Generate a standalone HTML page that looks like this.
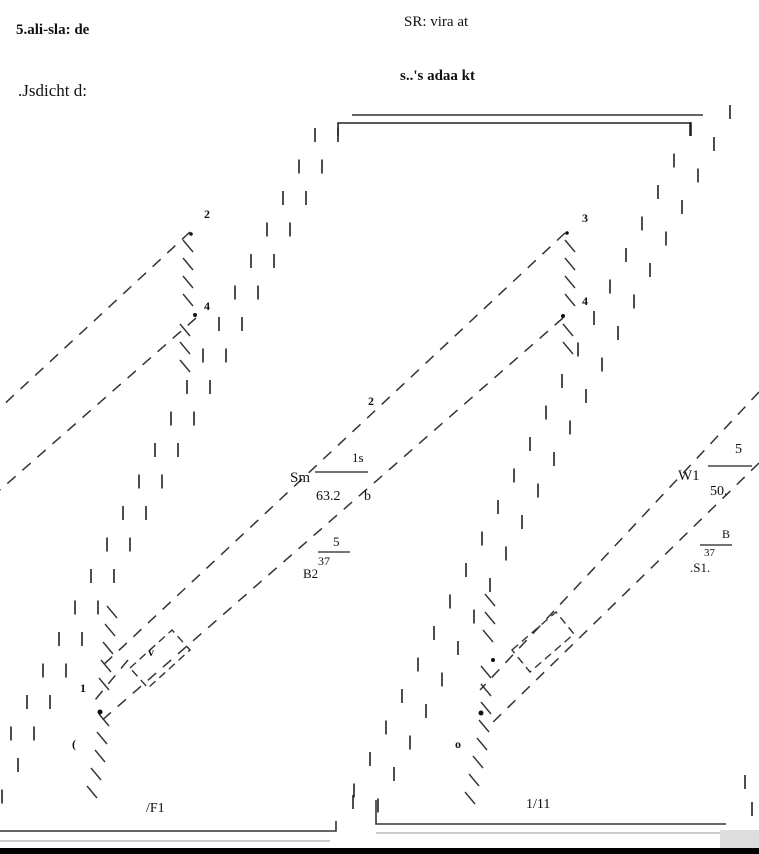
<!DOCTYPE html>
<html><head><meta charset="utf-8"><style>
html,body{margin:0;padding:0;background:#fff;width:759px;height:854px;overflow:hidden}
svg{display:block}
text{font-family:"Liberation Serif",serif;fill:#111}
</style></head><body>
<svg width="759" height="854" viewBox="0 0 759 854" xmlns="http://www.w3.org/2000/svg">
<defs>
<line id="vd" x1="0" y1="0" x2="0" y2="14" stroke="#222" stroke-width="1.6"/>
<line id="bs" x1="-5" y1="-6" x2="5" y2="6" stroke="#333" stroke-width="1.4"/>
<g id="colA">
<use href="#vd" x="315" y="128"/><use href="#vd" x="299" y="159.5"/><use href="#vd" x="283" y="191"/><use href="#vd" x="267" y="222.5"/><use href="#vd" x="251" y="254"/><use href="#vd" x="235" y="285.5"/><use href="#vd" x="219" y="317"/><use href="#vd" x="203" y="348.5"/><use href="#vd" x="187" y="380"/><use href="#vd" x="171" y="411.5"/><use href="#vd" x="155" y="443"/><use href="#vd" x="139" y="474.5"/><use href="#vd" x="123" y="506"/><use href="#vd" x="107" y="537.5"/><use href="#vd" x="91" y="569"/><use href="#vd" x="75" y="600.5"/><use href="#vd" x="59" y="632"/><use href="#vd" x="43" y="663.5"/><use href="#vd" x="27" y="695"/><use href="#vd" x="11" y="726.5"/><use href="#vd" x="-5" y="758"/><use href="#vd" x="-21" y="789.5"/>
</g>
</defs>

<!-- top texts -->
<text x="16" y="34" font-size="15" font-weight="bold">5.ali-sla: de</text>
<text x="18" y="96" font-size="17">.Jsdicht d:</text>
<text x="404" y="26" font-size="15">SR: vira at</text>
<text x="400" y="80" font-size="15" font-weight="bold">s..'s adaa kt</text>

<!-- top frame -->
<line x1="352" y1="115" x2="703" y2="115" stroke="#333" stroke-width="1.5"/>
<polyline points="338,136 338,123 691,123 691,136" fill="none" stroke="#222" stroke-width="1.6"/>

<!-- vertical dash columns -->
<use href="#colA"/>
<use href="#colA" transform="translate(23,0)"/>
<use href="#colA" transform="translate(375,-6)"/>
<use href="#colA" transform="translate(399,9)"/>
<use href="#vd" x="730" y="105"/>
<use href="#vd" x="745" y="775"/>
<use href="#vd" x="752" y="802"/>
<use href="#vd" x="353" y="795"/>

<!-- dashed diagonals -->
<g stroke="#333" stroke-width="1.5" stroke-dasharray="11,9" fill="none">
<line x1="190" y1="232" x2="0" y2="408"/>
<line x1="196" y1="318" x2="0" y2="490"/>
<line x1="565" y1="233" x2="100" y2="668"/>
<line x1="563" y1="318" x2="100" y2="722"/>
<line x1="759" y1="392" x2="480" y2="690"/>
<line x1="759" y1="463" x2="490" y2="725"/>
<line x1="128" y1="660" x2="95" y2="700"/>
</g>

<!-- backslash columns -->
<g>
<use href="#bs" x="188" y="246"/><use href="#bs" x="188" y="264"/><use href="#bs" x="188" y="282"/><use href="#bs" x="188" y="300"/><use href="#bs" x="185" y="330"/><use href="#bs" x="185" y="348"/><use href="#bs" x="185" y="366"/>
<use href="#bs" x="112" y="612"/><use href="#bs" x="110" y="630"/><use href="#bs" x="108" y="648"/><use href="#bs" x="106" y="666"/><use href="#bs" x="104" y="684"/><use href="#bs" x="104" y="720"/><use href="#bs" x="102" y="738"/><use href="#bs" x="100" y="756"/><use href="#bs" x="96" y="774"/><use href="#bs" x="92" y="792"/>
<use href="#bs" x="570" y="246"/><use href="#bs" x="570" y="264"/><use href="#bs" x="570" y="282"/><use href="#bs" x="570" y="300"/><use href="#bs" x="568" y="330"/><use href="#bs" x="568" y="348"/>
<use href="#bs" x="490" y="600"/><use href="#bs" x="490" y="618"/><use href="#bs" x="488" y="636"/><use href="#bs" x="486" y="672"/><use href="#bs" x="486" y="690"/><use href="#bs" x="486" y="708"/><use href="#bs" x="484" y="726"/><use href="#bs" x="482" y="744"/><use href="#bs" x="478" y="762"/><use href="#bs" x="474" y="780"/><use href="#bs" x="470" y="798"/>
</g>

<!-- dashed small boxes -->
<g stroke="#333" stroke-width="1.4" stroke-dasharray="8,5" fill="none">
<polygon points="130,668 172,630 190,650 148,688" transform="rotate(0)"/>
<polygon points="512,650 556,612 574,634 530,672"/>
</g>

<!-- points -->
<g fill="#111">
<circle cx="195" cy="315" r="2"/><circle cx="563" cy="316" r="2"/>
<circle cx="100" cy="712" r="2.5"/><circle cx="481" cy="713" r="2.5"/>
<circle cx="493" cy="660" r="2"/><circle cx="567" cy="233" r="1.8"/><circle cx="191" cy="234" r="1.8"/>
</g>

<!-- labels -->
<g font-size="12" font-weight="bold">
<text x="204" y="218">2</text><text x="204" y="310">4</text>
<text x="582" y="222">3</text><text x="582" y="305">4</text>
<text x="80" y="692">1</text><text x="72" y="748">(</text>
<text x="368" y="405">2</text><text x="148" y="656">v</text>
<text x="455" y="748">o</text>
</g>
<g font-size="15">
<text x="290" y="482">Sm</text>
<text x="352" y="462" font-size="13">1s</text>
<line x1="315" y1="472" x2="368" y2="472" stroke="#222" stroke-width="1.2"/>
<text x="316" y="500" font-size="14">63.2</text><text x="364" y="500" font-size="14">b</text>
<text x="333" y="546" font-size="13">5</text>
<line x1="318" y1="552" x2="350" y2="552" stroke="#222" stroke-width="1.2"/>
<text x="318" y="565" font-size="12">37</text>
<text x="303" y="578" font-size="13">B2</text>
<text x="678" y="480">W1</text>
<text x="735" y="453" font-size="14">5</text>
<line x1="708" y1="466" x2="752" y2="466" stroke="#222" stroke-width="1.2"/>
<text x="710" y="495" font-size="14">50.</text>
<text x="722" y="538" font-size="12">B</text>
<line x1="700" y1="545" x2="732" y2="545" stroke="#222" stroke-width="1.2"/>
<text x="704" y="556" font-size="11">37</text>
<text x="690" y="572" font-size="13">.S1.</text>
<text x="146" y="812" font-size="14">/F1</text>
<text x="526" y="808" font-size="14">1/11</text>
</g>

<!-- bottom frames -->
<polyline points="0,831 336,831 336,821" fill="none" stroke="#333" stroke-width="1.6"/>
<line x1="0" y1="841" x2="330" y2="841" stroke="#999" stroke-width="1"/>
<polyline points="376,800 376,824 726,824" fill="none" stroke="#333" stroke-width="1.6"/>
<line x1="376" y1="833" x2="720" y2="833" stroke="#999" stroke-width="1"/>
<rect x="720" y="830" width="39" height="18" fill="#ddd"/>
<rect x="0" y="848" width="759" height="6" fill="#000"/>
</svg>
</body></html>
